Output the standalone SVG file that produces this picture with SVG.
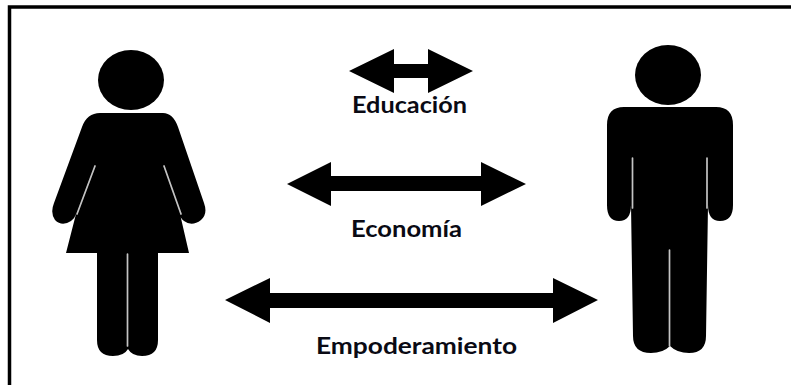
<svg xmlns="http://www.w3.org/2000/svg" width="791" height="385" viewBox="0 0 791 385">
  <style>
    .ink { fill: #000; }
    .gap { fill: none; stroke: #c4c4c4; stroke-width: 1.7; stroke-linecap: round; }
    .label { font-family: Lato, "Open Sans", "Liberation Sans", sans-serif; font-weight: 700; font-size: 23px; fill: #0a0a14; }
    .frame { fill: none; stroke: #000; stroke-width: 3.5; }
  </style>
  <defs>
    <filter id="soft" x="-5%" y="-5%" width="110%" height="110%"><feGaussianBlur stdDeviation="0.6"/></filter>
  </defs>
  <rect width="791" height="385" fill="#fff"/>
  <path id="frame" class="frame" d="M9.5 385V7H791"/>
  <g id="woman" filter="url(#soft)">
    <ellipse class="ink" cx="131" cy="80" rx="33" ry="30"/>
    <path class="ink" d="M100 113H163Q173 113 178 127L204 203Q208 214 201 220Q192 227 184 221Q180 218 180 214L189 253H158V340Q158 356 142 356Q132 356 128 349Q124 356 113 356Q97 356 97 340V253H66L76 214Q75 218 71 221Q62 227 55 220Q50 213 54 203L82 127Q87 113 100 113Z"/>
    <path class="gap" d="M95 166L77 214M164 166L181 214M127.500 254V346"/>
  </g>
  <g id="man" filter="url(#soft)">
    <ellipse class="ink" cx="668" cy="75" rx="33" ry="30"/>
    <path class="ink" d="M624 107H716Q733 107 733 125V205Q733 221 720 221Q708 221 708 205L706 336Q706 353 689 353Q677 353 670 346Q663 353 651 353Q633 353 633 336L631 205Q631 221 619 221Q607 221 607 205V125Q607 107 624 107Z"/>
    <path class="gap" d="M632.500 158V208M707 158V208M669.500 250V346"/>
  </g>
  <g id="connectors" class="ink" filter="url(#soft)">
    <polygon points="349,71 394,49 394,64 428,64 428,49 473,71 428,93 428,78 394,78 394,93"/>
    <polygon points="287,184 331,162 331,176 481,176 481,162 526,184 481,206 481,191 331,191 331,206"/>
    <polygon points="225,300 270,278 270,293 553,293 553,278 598,300 553,323 553,308 270,308 270,323"/>
  </g>
  <g id="label-educacion"><text class="label" x="352" y="113" textLength="115" lengthAdjust="spacingAndGlyphs">Educación</text></g>
  <g id="label-economia"><text class="label" x="351" y="237" textLength="111" lengthAdjust="spacingAndGlyphs">Economía</text></g>
  <g id="label-empoderamiento"><text class="label" x="316" y="354" textLength="201" lengthAdjust="spacingAndGlyphs">Empoderamiento</text></g>
</svg>
